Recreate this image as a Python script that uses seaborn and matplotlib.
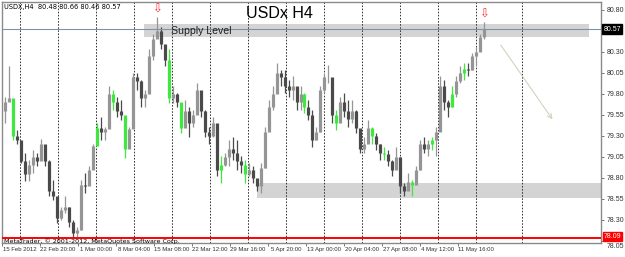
import numpy as np
import pandas as pd
import matplotlib
matplotlib.use("Agg")
import matplotlib.pyplot as plt
import matplotlib.transforms as mtransforms
from matplotlib.patches import Rectangle
import seaborn as sns

# ---------------- data ----------------
highs = [79.77, 80.13, 79.45, 79.37, 79.21, 79.10, 79.02, 79.13, 79.10, 79.27,
         79.17, 79.02, 78.78, 78.54, 78.46, 78.58, 78.46, 78.30, 78.22, 78.78,
         78.86, 78.94, 79.21, 79.45, 79.53, 79.41, 79.89, 79.85, 79.77, 79.73,
         79.50, 79.41, 80.05, 80.05, 79.97, 79.85, 80.33, 80.52, 80.72, 80.60,
         80.36, 80.33, 79.89, 79.81, 79.61, 79.73, 79.65, 79.61, 79.93, 79.81,
         79.61, 79.41, 79.53, 79.30, 79.06, 79.10, 79.25, 79.29, 79.25, 79.06,
         79.02, 78.98, 78.94, 78.78, 78.98, 79.41, 79.73, 79.89, 80.17, 80.09,
         80.09, 79.97, 80.01, 79.85, 79.89, 79.81, 79.73, 79.61, 79.41, 79.89,
         80.05, 80.15, 79.85, 79.61, 79.77, 79.81, 79.73, 79.73, 79.61, 79.37,
         79.29, 79.49, 79.41, 79.33, 79.21, 79.17, 79.13, 79.02, 79.17, 79.05,
         78.74, 78.86, 78.78, 78.94, 79.25, 79.29, 79.25, 79.29, 79.41, 80.01,
         79.97, 79.73, 79.89, 80.01, 80.13, 80.17, 80.17, 80.29, 80.36, 80.52,
         80.66]
lows = [79.45, 79.73, 79.25, 79.21, 78.98, 78.76, 78.76, 78.86, 78.94, 79.02,
        78.94, 78.58, 78.54, 78.26, 78.30, 78.38, 78.22, 78.08, 78.07, 78.18,
        78.62, 78.78, 79.02, 79.21, 79.25, 79.25, 79.53, 79.61, 79.53, 79.49,
        79.04, 79.25, 79.73, 79.85, 79.65, 79.65, 79.93, 80.21, 80.48, 80.33,
        80.13, 79.69, 79.69, 79.65, 79.33, 79.45, 79.29, 79.41, 79.57, 79.53,
        79.29, 79.21, 79.29, 78.82, 78.74, 78.94, 78.94, 79.02, 78.90, 78.86,
        78.74, 78.82, 78.74, 78.64, 78.62, 78.92, 79.41, 79.61, 79.93, 79.89,
        79.81, 79.77, 79.73, 79.61, 79.61, 79.57, 79.49, 79.17, 79.25, 79.35,
        79.81, 79.93, 79.45, 79.37, 79.49, 79.53, 79.41, 79.45, 79.33, 79.10,
        79.10, 79.25, 79.21, 79.13, 79.02, 79.02, 78.94, 78.82, 78.94, 78.62,
        78.58, 78.66, 78.58, 78.76, 78.90, 79.10, 79.06, 79.13, 79.06, 79.45,
        79.61, 79.53, 79.65, 79.77, 79.93, 79.97, 80.01, 80.09, 80.13, 80.33,
        80.46]
closes = [79.70, 79.75, 79.30, 79.25, 79.00, 78.85, 78.95, 79.05, 79.00, 79.20,
          79.00, 78.65, 78.58, 78.32, 78.42, 78.45, 78.28, 78.15, 78.18, 78.72,
          78.70, 78.90, 79.18, 79.40, 79.35, 79.38, 79.80, 79.70, 79.60, 79.55,
          79.15, 79.38, 80.00, 79.95, 79.75, 79.80, 80.25, 80.45, 80.55, 80.40,
          80.20, 79.75, 79.80, 79.70, 79.40, 79.60, 79.45, 79.55, 79.85, 79.60,
          79.35, 79.30, 79.45, 78.90, 78.95, 79.05, 79.15, 79.10, 79.00, 78.95,
          78.85, 78.90, 78.80, 78.70, 78.92, 79.35, 79.65, 79.80, 80.05, 80.00,
          79.90, 79.85, 79.90, 79.70, 79.80, 79.65, 79.55, 79.25, 79.35, 79.85,
          80.00, 80.00, 79.55, 79.45, 79.70, 79.60, 79.50, 79.60, 79.40, 79.15,
          79.20, 79.40, 79.30, 79.20, 79.10, 79.08, 79.00, 78.90, 79.05, 78.70,
          78.65, 78.75, 78.72, 78.90, 79.20, 79.15, 79.20, 79.25, 79.35, 79.90,
          79.70, 79.65, 79.80, 79.95, 80.05, 80.10, 80.08, 80.25, 80.30, 80.48,
          80.57]
first_open = 79.60
green_bars = [2, 23, 27, 30, 41, 44, 54, 60, 75, 83, 92, 95, 102, 107, 112, 115]

date_labels = ["15 Feb 2012", "22 Feb 20:00", "1 Mar 00:00", "8 Mar 04:00",
               "15 Mar 08:00", "22 Mar 12:00", "29 Mar 16:00", "5 Apr 20:00",
               "13 Apr 00:00", "20 Apr 04:00", "27 Apr 08:00", "4 May 12:00",
               "11 May 16:00"]
price_ticks = [80.80, 80.30, 80.05, 79.80, 79.55, 79.30, 79.05, 78.80, 78.55,
               78.30, 78.05]
bid_price = 80.57
red_level = 78.09
supply_zone = [80.48, 80.63]
demand_zone = [78.565, 78.74]
forecast_from = 80.41
forecast_to = 79.47
title = "USDx H4"
info_text = "USDX,H4  80.48 80.66 80.46 80.57"
copyright_text = "MetaTrader, \u00a9 2001-2012, MetaQuotes Software Corp."
zone_label = "Supply Level"

# ---------------- build table ----------------
df = pd.DataFrame({"high": highs, "low": lows, "close": closes})
df["open"] = [first_open] + closes[:-1]
df["x"] = np.arange(len(df))
df["up"] = df["close"] >= df["open"]
colors = np.where(df["up"], "#959595", "#4a4a4a").astype(object)
for g in green_bars:
    colors[g] = "#3ee83e"
df["color"] = colors

# ---------------- figure ----------------
sns.set_theme(style="white")
plt.rcParams["font.family"] = ["Liberation Sans", "DejaVu Sans"]

W, H = 625, 257
fig = plt.figure(figsize=(W / 100, H / 100), dpi=100)
ax = fig.add_axes([2 / W, 14 / H, 599 / W, 241 / H])
ax.set_facecolor("white")

ax.set_xlim(-0.5, 149.25)
ax.set_ylim(78.026, 80.895)

# vertical dashed grid (weekly separators)
step = 38.07 / 4
grid_pos = [3.75 + step * k for k in range(len(date_labels))]
extra_grid = 129.5
for gx in grid_pos + [extra_grid]:
    ax.axvline(gx, color="#303030", lw=0.7, ls=(0, (1.6, 1.6)), zorder=1)

# zones
ax.add_patch(Rectangle((34.75, supply_zone[0]), 146.25 - 34.75,
                       supply_zone[1] - supply_zone[0],
                       facecolor="#d4d4d4", edgecolor="none", zorder=0.5))
ax.add_patch(Rectangle((63.0, demand_zone[0]), 149.25 - 63.0,
                       demand_zone[1] - demand_zone[0],
                       facecolor="#d4d4d4", edgecolor="none", zorder=0.5))

# candles
ax.vlines(df["x"], df["low"], df["high"], colors=df["color"], lw=0.9, zorder=3)
ax.vlines(df["x"], df[["open", "close"]].min(axis=1),
          df[["open", "close"]].max(axis=1), colors=df["color"], lw=2.3, zorder=3)

# bid and red line
ax.axhline(bid_price, color="#7d93aa", lw=0.8, zorder=4)
ax.axhline(red_level, color="#ff0000", lw=1.4, zorder=4)

# zone label
ax.text(41.5, (supply_zone[0] + supply_zone[1]) / 2, zone_label,
        fontsize=7.6, color="#202020", va="center", ha="left", zorder=5)

# forecast arrow
ax.annotate("", xy=(137.5, forecast_to), xytext=(123.75, forecast_from),
            arrowprops=dict(arrowstyle="->", color="#d6d1bd", lw=0.8,
                            mutation_scale=8), zorder=5)

# red down arrows over the two tops
for i in (int(np.argmax(highs[:60])), len(highs) - 1):
    ax.annotate("\u21e9", xy=(df["x"][i], df["high"][i]), xytext=(0, 0.5),
                textcoords="offset points", ha="center", va="bottom",
                fontsize=8.5, color="#ff2a2a", family="DejaVu Sans", zorder=6)

# axes frame
for s in ax.spines.values():
    s.set_color("#8a8a8a")
    s.set_linewidth(1.0)

# y axis on the right
ax.yaxis.tick_right()
ax.set_yticks(price_ticks)
ax.set_yticklabels([f"{p:.2f}" for p in price_ticks])
ax.tick_params(axis="y", which="major", length=2, width=0.6, color="#606060",
               labelsize=5, labelcolor="#303030", pad=2, right=True, left=False)
# lowest label sits partly below the red price box, as in the reference
low_lab = ax.get_yticklabels()[-1]
low_lab.set_transform(low_lab.get_transform() +
                      mtransforms.ScaledTranslation(0, -5 / 100, fig.dpi_scale_trans))

# x axis labels
ax.set_xticks(grid_pos)
ax.set_xticklabels(date_labels)
ax.set_xticks([g - 4.5 for g in grid_pos], minor=True)
ax.tick_params(axis="x", which="major", length=0, labelsize=4.3,
               labelcolor="#303030", pad=3)
ax.tick_params(axis="x", which="minor", length=2.5, width=0.6, color="#606060",
               bottom=True)

# price boxes on the axis
ytr = mtransforms.blended_transform_factory(ax.transAxes, ax.transData)
ax.text(1.004, bid_price, f"{bid_price:.2f}", transform=ytr, fontsize=5,
        color="white", va="center", ha="left", zorder=10, clip_on=False,
        bbox=dict(boxstyle="square,pad=0.2", fc="black", ec="black"))
ax.text(1.004, red_level + 0.015, f"{red_level:.2f}", transform=ytr, fontsize=5,
        color="white", va="center", ha="left", zorder=10, clip_on=False,
        bbox=dict(boxstyle="square,pad=0.12", fc="#ff0000", ec="#ff0000"))

# texts
fig.text(279 / W, 1 - 13 / H, title, fontsize=11.5, color="black",
         ha="center", va="center")
ax.text(0.003, 1 - 5 / 241, info_text, transform=ax.transAxes, fontsize=4.8,
        color="black", ha="left", va="center", family="DejaVu Sans")
ax.text(0.003, 2.3 / 241, copyright_text, transform=ax.transAxes, fontsize=4.6,
        color="black", ha="left", va="center", family="DejaVu Sans", zorder=6)

fig.savefig("out.png", dpi=100, facecolor="white")
